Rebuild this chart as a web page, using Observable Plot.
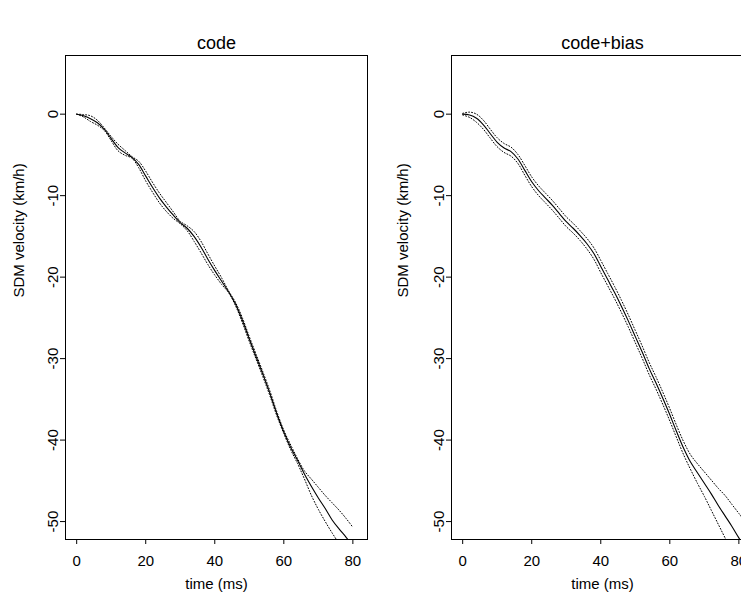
<!DOCTYPE html>
<html><head><meta charset="utf-8">
<script src="https://cdn.jsdelivr.net/npm/d3@7"></script>
<script src="https://cdn.jsdelivr.net/npm/@observablehq/plot@0.6"></script>
<style>
html,body{margin:0;padding:0;background:#fff;}
#wrap{position:relative;width:741px;height:599px;overflow:hidden;background:#fff;}
#wrap svg{position:absolute;top:0;}
</style></head><body><div id="wrap"></div>
<script>
// ---- data ----
const time = [0,2,4,6,8,10,12,14,16,18,20,22,24,26,28,30,32,34,36,38,40,42,44,46,48,50,52,54,56,58,60,62,64,66,68,70,72,74,76,78,80,82];

const codeMean  = [0,-0.2,-0.55,-1.05,-1.85,-3.0,-4.1,-4.75,-5.3,-6.2,-7.6,-9.0,-10.3,-11.4,-12.4,-13.3,-14.0,-15.0,-16.3,-17.8,-19.2,-20.5,-21.8,-23.3,-25.3,-27.6,-29.8,-32.0,-34.3,-36.8,-39.0,-40.9,-42.5,-44.2,-45.7,-47.1,-48.4,-49.8,-50.9,-51.9,-53.0,-54.0];
const codeUpper = [0,-0.05,-0.2,-0.75,-1.7,-2.75,-3.7,-4.45,-5.2,-5.8,-7.0,-8.4,-9.7,-10.85,-12.0,-13.15,-13.7,-14.4,-15.6,-17.15,-18.65,-20.1,-21.7,-23.1,-25.0,-27.3,-29.5,-31.7,-34.0,-36.55,-38.8,-40.6,-42.3,-43.8,-44.8,-45.8,-46.8,-47.7,-48.6,-49.6,-50.7,null];
const codeLower = [0,-0.35,-0.9,-1.35,-2.0,-3.25,-4.5,-5.05,-5.4,-6.6,-8.2,-9.6,-10.9,-11.95,-12.8,-13.45,-14.3,-15.6,-17.0,-18.45,-19.75,-20.9,-21.9,-23.5,-25.6,-27.9,-30.1,-32.3,-34.6,-37.05,-39.2,-41.2,-42.9,-44.8,-46.8,-48.5,-50.0,-51.4,-52.7,-54.0,null,null];

const biasMean  = [0,-0.1,-0.5,-1.3,-2.4,-3.45,-4.15,-4.6,-5.5,-6.9,-8.3,-9.4,-10.3,-11.2,-12.2,-13.2,-14.0,-14.9,-15.9,-17.1,-18.7,-20.3,-21.9,-23.6,-25.4,-27.3,-29.2,-31.2,-33.0,-34.9,-36.9,-39.0,-41.0,-42.7,-44.0,-45.3,-46.6,-48.0,-49.3,-50.6,-52.0,-53.3];
const biasUpper = [0.1,0.25,0.0,-0.75,-1.85,-2.9,-3.6,-4.05,-4.95,-6.3,-7.7,-8.8,-9.7,-10.6,-11.6,-12.6,-13.4,-14.3,-15.25,-16.4,-17.95,-19.55,-21.15,-22.85,-24.65,-26.55,-28.45,-30.45,-32.25,-34.15,-36.15,-38.25,-40.2,-41.8,-42.9,-43.9,-44.9,-45.9,-46.8,-47.9,-49.0,-50.1];
const biasLower = [-0.1,-0.4,-1.0,-1.85,-2.95,-4.0,-4.7,-5.15,-6.05,-7.5,-8.9,-10.0,-10.9,-11.8,-12.8,-13.8,-14.6,-15.5,-16.55,-17.8,-19.45,-21.05,-22.65,-24.35,-26.15,-28.05,-29.95,-31.95,-33.75,-35.65,-37.65,-39.75,-41.8,-43.6,-45.3,-46.9,-48.6,-50.3,-52.0,-53.7,null,null];

const panelTitles = ["code", "code+bias"];
const xTicks = [0, 20, 40, 60, 80];
const yTicks = [0, -10, -20, -30, -40, -50];
const xLabel = "time (ms)";
const yLabel = "SDM velocity (km/h)";

// ---- drawing ----
const fontFam = '"Liberation Sans", Arial, Helvetica, sans-serif';
const xDomain = [-3.24, 84.24];
const yDomain = [-52.2, 7.2];

function panel(title, mean, upper, lower, svgLeft, yLabelDx) {
  const rows = time.map((t, i) => ({t, mean: mean[i], upper: upper[i], lower: lower[i]}));
  const chart = Plot.plot({
    width: 380, height: 599,
    marginLeft: 65, marginRight: 13, marginTop: 55, marginBottom: 60,
    style: {fontFamily: fontFam, fontSize: "15px", background: "transparent", color: "black", overflow: "visible"},
    x: {domain: xDomain, axis: null},
    y: {domain: yDomain, axis: null},
    marks: [
      Plot.axisX({ticks: xTicks, tickSize: 5, tickPadding: 11, label: null, tickFormat: d => String(d), stroke: "black"}),
      Plot.axisY({ticks: yTicks, tickSize: 5, tickPadding: 3, tickRotate: -90, label: null, tickFormat: d => String(d), stroke: "black"}),
      Plot.line(rows, {x: "t", y: "upper", stroke: "black", strokeWidth: 1, strokeDasharray: "1,2", curve: "catmull-rom", clip: true}),
      Plot.line(rows, {x: "t", y: "lower", stroke: "black", strokeWidth: 1, strokeDasharray: "1,2", curve: "catmull-rom", clip: true}),
      Plot.line(rows, {x: "t", y: "mean", stroke: "black", strokeWidth: 1.1, curve: "catmull-rom", clip: true}),
      Plot.frame({stroke: "black", strokeWidth: 1}),
      Plot.text([title], {text: d => d, frameAnchor: "top", dy: -19, fontSize: 18}),
      Plot.text([xLabel], {text: d => d, frameAnchor: "bottom", dy: 49}),
      Plot.text([yLabel], {text: d => d, frameAnchor: "left", dx: yLabelDx, rotate: -90})
    ]
  });
  chart.style.left = svgLeft + "px";
  return chart;
}

const wrap = document.getElementById("wrap");
wrap.appendChild(panel(panelTitles[0], codeMean, codeUpper, codeLower, 0, -46));
wrap.appendChild(panel(panelTitles[1], biasMean, biasUpper, biasLower, 386, -48));
</script>
</body></html>
